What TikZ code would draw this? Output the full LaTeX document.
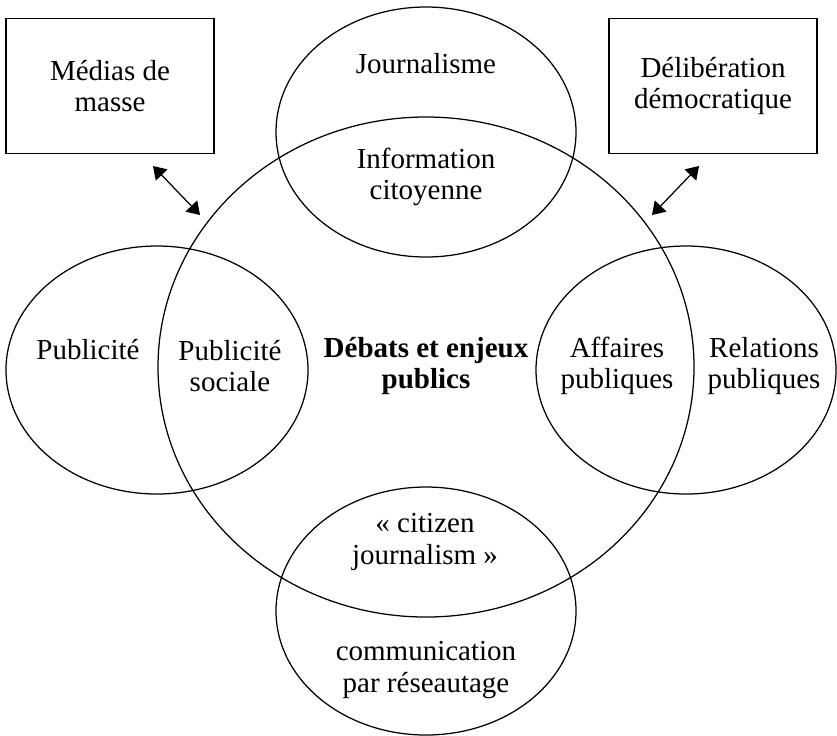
\documentclass[tikz,border=0pt]{standalone}
\usepackage{fontspec}
\setmainfont{Liberation Serif}
\usetikzlibrary{arrows.meta}

\tikzset{
  txt/.style={align=center, inner sep=0pt, font=\fontsize{11.6}{12.6}\selectfont},
  boite/.style={txt, draw, line width=.5pt, minimum width=83.2pt, minimum height=54pt},
  fleche/.style={{Triangle[length=5pt,width=6.4pt]}-{Triangle[length=5pt,width=6.4pt]}, line width=.5pt}
}

\begin{document}
\begin{tikzpicture}[x=.4pt, y=-.4pt, line width=.5pt]
\useasboundingbox (0,0) rectangle (837,735);

% les ensembles
\draw (426,367) ellipse [x radius=268, y radius=250];
\draw (426,132) ellipse [x radius=150, y radius=125];
\draw (157,370) ellipse [x radius=151, y radius=124];
\draw (686,370) ellipse [x radius=150, y radius=124];
\draw (426,611) ellipse [x radius=150, y radius=124];

\path (110,86) node[boite] (medias) {Médias de\\masse}
      (713,86) node[boite] (delib) {Délibération\\démocratique}
      (426,64) node[txt] (journ) {Journalisme}
      (426,177) node[txt] (info) {Information\\citoyenne}
      (88,350) node[txt] (pub) {Publicité}
      (230,366) node[txt] (pubsoc) {Publicité\\sociale}
      (426,366) node[txt] (debats) {\bfseries Débats et enjeux\\\bfseries publics}
      (617,366) node[txt] (affaires) {Affaires\\publiques}
      (764,366) node[txt] (relations) {Relations\\publiques}
      (425,542) node[txt] (citizen) {«~citizen\\journalism~»}
      (426,670) node[txt] (reseau) {communication\\par réseautage}
      ;

\coordinate (m1) at (153,166);
\coordinate (m2) at (200,215);
\coordinate (d1) at (699,166);
\coordinate (d2) at (652,215);
\draw[fleche] (m1) -- (m2);
\draw[fleche] (d1) -- (d2);
\end{tikzpicture}
\end{document}
